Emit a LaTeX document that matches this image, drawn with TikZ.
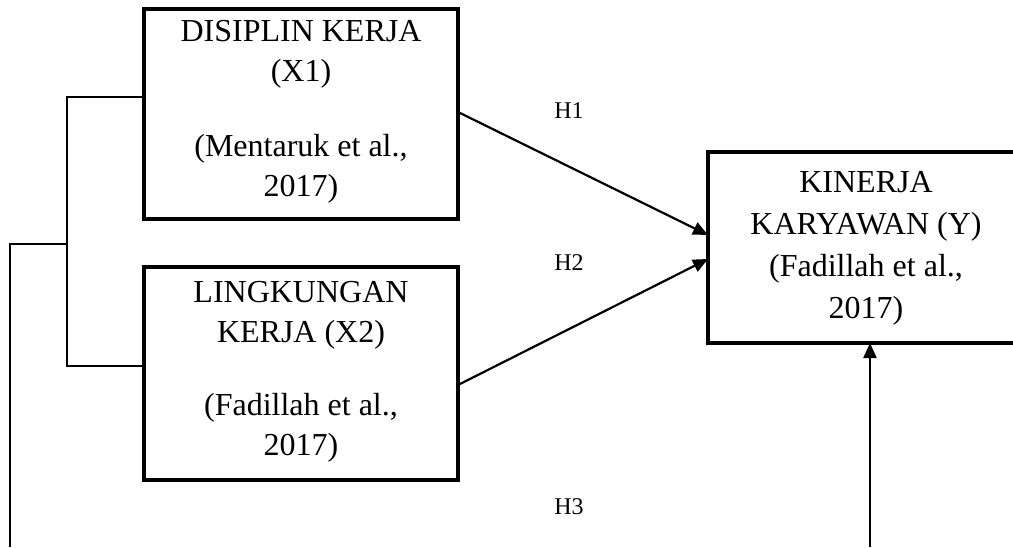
\documentclass[tikz,border=0pt]{standalone}
\usepackage{fontspec}
\setmainfont{Liberation Serif}
\usetikzlibrary{arrows.meta}
\tikzset{
  box/.style={draw, line width=4pt, rectangle, inner sep=0pt},
  txt/.style={align=center, font=\fontsize{32}{40}\selectfont, inner sep=0pt},
  hyp/.style={font=\fontsize{24}{28}\selectfont, inner sep=0pt},
  conn/.style={line width=2pt},
  arr/.style={line width=2.2pt, -{Triangle[length=15pt,width=13pt]}},
}
\begin{document}
\begin{tikzpicture}[x=1pt,y=-1pt]
\useasboundingbox (0,0) rectangle (1013,547);
\clip (0,0) rectangle (1013,547);
% boxes
\node[box, minimum width=314pt, minimum height=210pt] (x1) at (301,114) {};
\node[box, minimum width=314pt, minimum height=213pt] (x2) at (301,373.5) {};
\node[box, minimum width=314pt, minimum height=191pt] (y) at (865,247.5) {};
% texts
\node[txt] (x1t) at (301,112) {DISIPLIN KERJA\\(X1)\\[35pt](Mentaruk et al.,\\2017)};
\node[txt] (x2t) at (301,372) {LINGKUNGAN\\KERJA (X2)\\[33pt](Fadillah et al.,\\2017)};
\node[txt, font=\fontsize{32}{42}\selectfont] (yt) at (866,248) {KINERJA\\KARYAWAN (Y)\\(Fadillah et al.,\\2017)};
% hypothesis labels
\node[hyp] (h1) at (569,111) {H1};
\node[hyp] (h2) at (569,263) {H2};
\node[hyp] (h3) at (569,507) {H3};
% coordinates for connectors
\coordinate (a1) at (458,112);
\coordinate (b1) at (708,235);
\coordinate (a2) at (458,385);
\coordinate (b2) at (708,259);
\coordinate (v0) at (870,547);
\coordinate (v1) at (870,343);
\coordinate (k1) at (144,97);
\coordinate (k2) at (144,366);
\coordinate (kt) at (67,97);
\coordinate (kb) at (67,366);
\coordinate (km) at (67,244);
\coordinate (l1) at (10,244);
\coordinate (l2) at (10,547);
% connectors
\draw[arr] (a1) -- (b1);
\draw[arr] (a2) -- (b2);
\draw[arr] (v0) -- (v1);
\draw[conn] (k1) -- (kt) -- (kb) -- (k2);
\draw[conn] (km) -- (l1) -- (l2);
\end{tikzpicture}
\end{document}
